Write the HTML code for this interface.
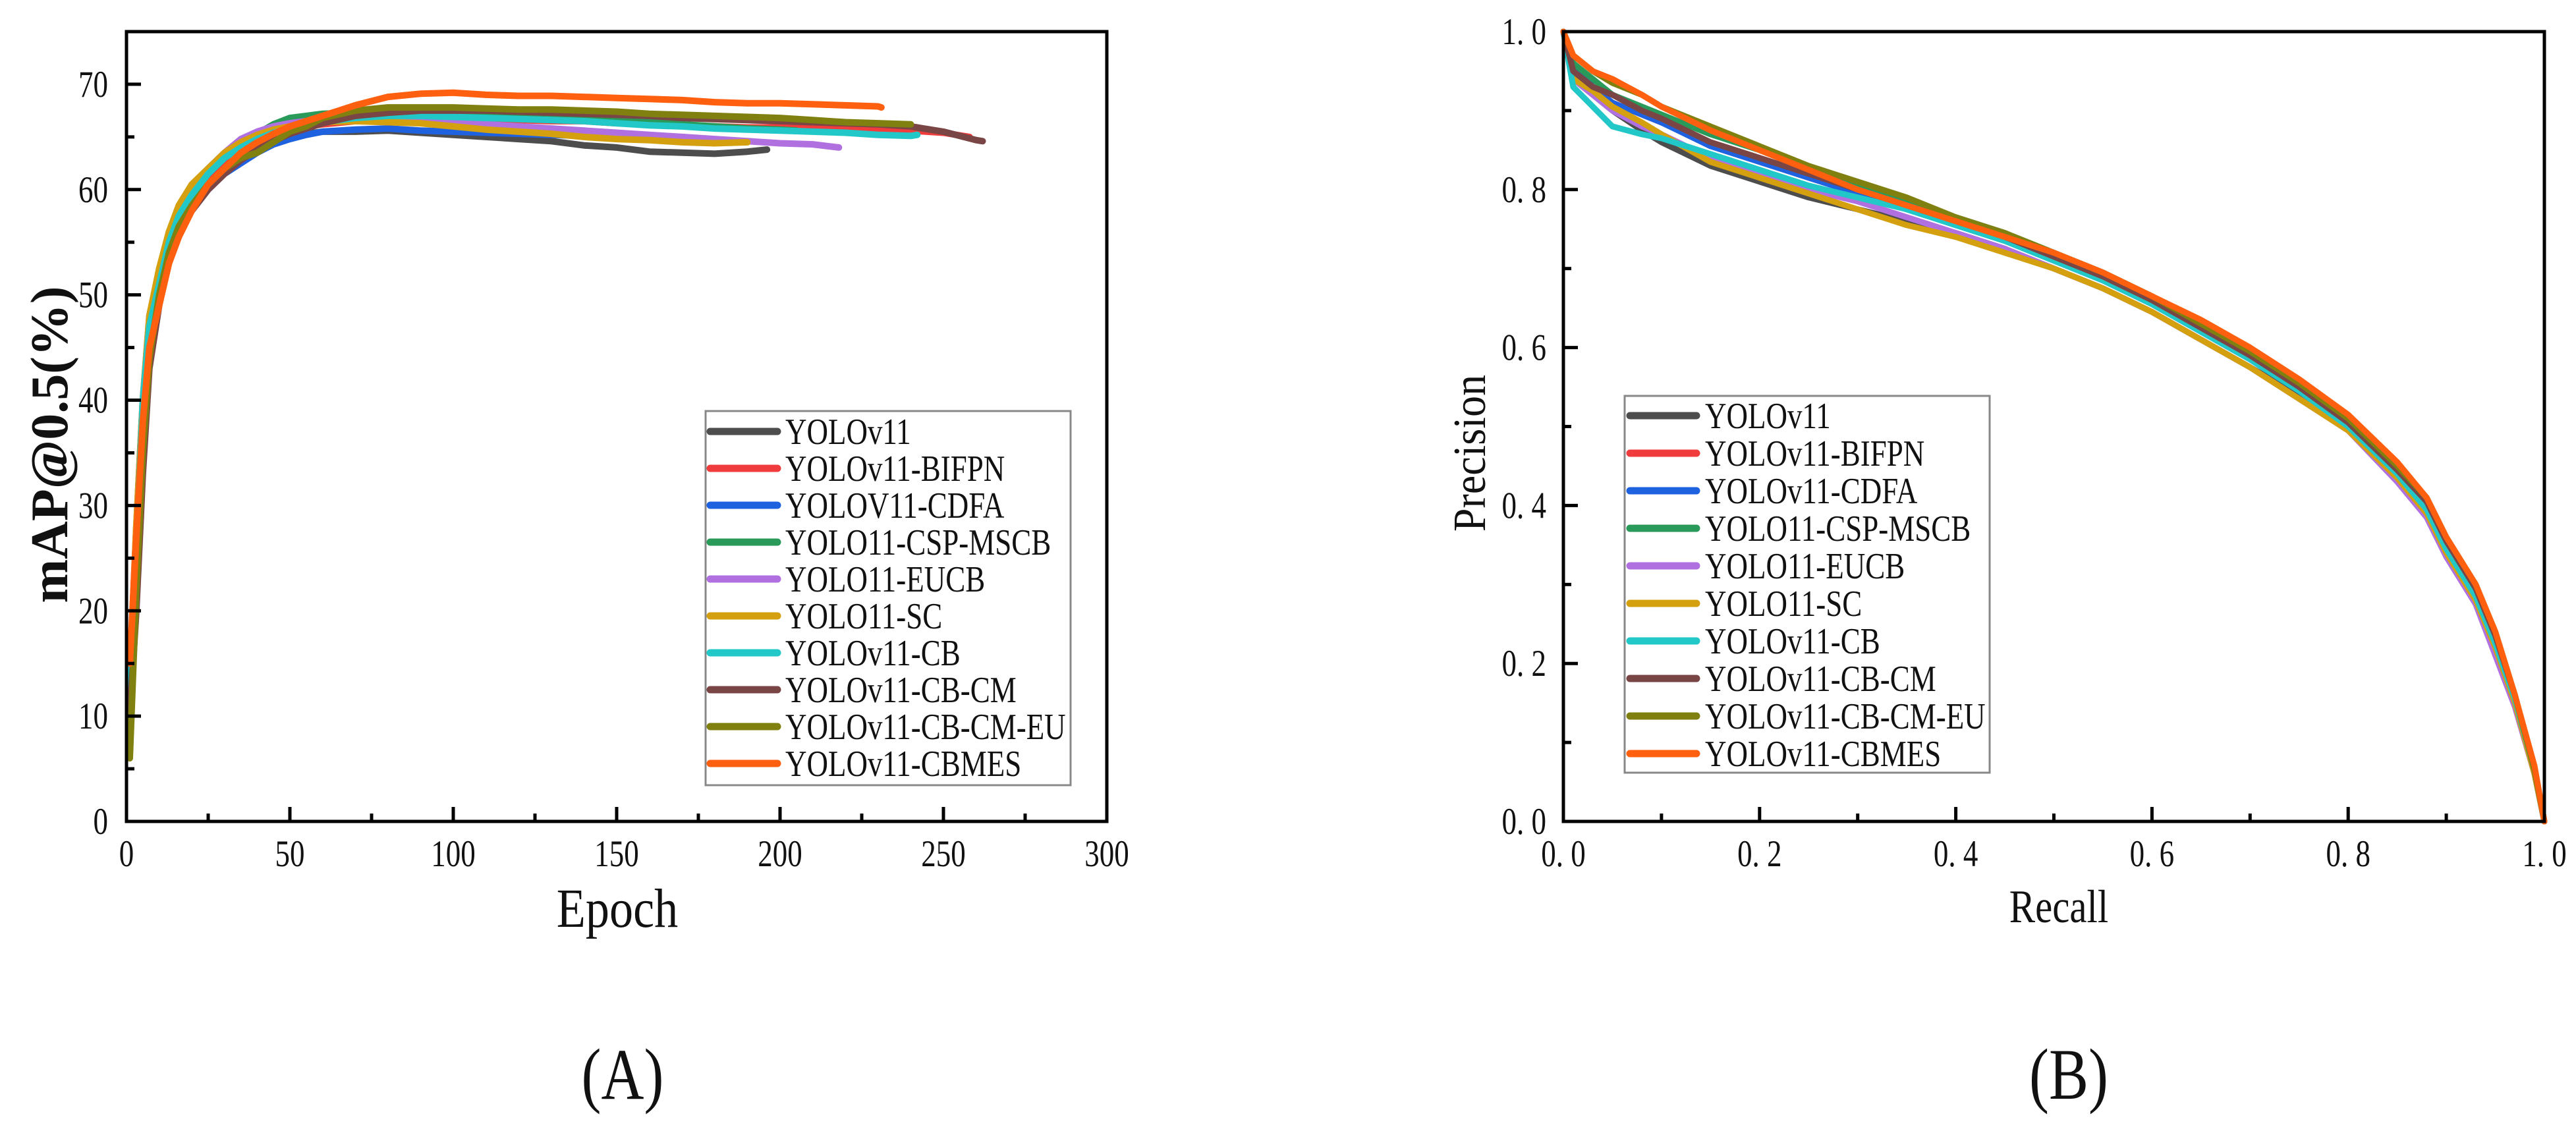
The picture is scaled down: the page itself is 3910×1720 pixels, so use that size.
<!DOCTYPE html>
<html><head><meta charset="utf-8"><style>
html,body{margin:0;padding:0;background:#fff;}
svg{display:block;}
text{font-family:"Liberation Serif",serif;fill:#111;}
</style></head><body>
<svg id="root" width="3910" height="1720" viewBox="0 0 3910 1720" xmlns="http://www.w3.org/2000/svg">
<rect width="3910" height="1720" fill="#fff"/>
<g id="chartA"></g>
<g id="chartB"></g>
<text x="0" y="0" font-size="100" text-anchor="middle" transform="translate(945,1668) scale(0.9,1.1)">(A)</text>
<text x="0" y="0" font-size="100" text-anchor="middle" transform="translate(3140,1668) scale(0.9,1.1)">(B)</text>
</svg>
<script>
const names = ["YOLOv11","YOLOv11-BIFPN","YOLOV11-CDFA","YOLO11-CSP-MSCB","YOLO11-EUCB","YOLO11-SC","YOLOv11-CB","YOLOv11-CB-CM","YOLOv11-CB-CM-EU","YOLOv11-CBMES"];
const namesB = ["YOLOv11","YOLOv11-BIFPN","YOLOv11-CDFA","YOLO11-CSP-MSCB","YOLO11-EUCB","YOLO11-SC","YOLOv11-CB","YOLOv11-CB-CM","YOLOv11-CB-CM-EU","YOLOv11-CBMES"];
const colors = ["#4d4d4d","#f03c3c","#1f62e0","#2a9a5a","#b070e0","#d4a010","#22c8c8","#7a4545","#808010","#ff6010"];
const epochs = [1,3,5,7,10,13,16,20,25,30,35,40,45,50,55,60,70,80,90,100,110,120,130,140,150,160,170,180,190,200,210,220,230,240,250,260];
const endEpochs = [196,258,152,205,218,190,242,262,240,231];
const mapA = [10,24,36,45,50,54,56.5,58.5,60.5,62,63,63.8,64.5,65,65.3, 65.5,65.5,65.6,65.4,65.2,65,64.8,64.6,64.2,64,63.6,63.5,63.4,63.6, 63.8];
const mapB = [14,28,40,47,51,54.5,57,59,61,62.5,63.5,64.5,65.2,65.7,66, 66.2,66.5,66.7,66.8,66.8,66.7,66.6,66.5,66.5,66.3,66.2,66.1,66,65.9,65.9,65.8,65.8,65.7,65.6,65.4, 65.0];
const mapC = [12,26,38,46,50,53.5,56,58,60,61.5,62.5,63.5,64.3,64.8,65.2, 65.5,65.7,65.8,65.6,65.5,65.4,65.3,65.2,65.1,65.0, 65.0];
const mapD = [8,25,38,46,51,55,57.5,59.5,61.5,63,64.3,65.3,66.2,66.8,67, 67.2,67.3,67.4,67.4,67.3,67.2,67,66.9,66.8,66.6,66.4,66.2,66,65.8,65.7, 65.6];
const mapE = [12,27,40,48,52,56,58,60,62,63.5,64.8,65.5,66,66.3,66.5, 66.5,66.6,66.5,66.4,66.3,66.2,66,65.8,65.6,65.4,65.2,65,64.8,64.6,64.4,64.3, 64.0];
const mapF = [13,28,40,48,52.5,56,58.5,60.5,62,63.5,64.5,65.2,65.7,66,66.2, 66.4,66.5,66.4,66.3,66,65.7,65.5,65.3,65,64.8,64.7,64.5,64.4, 64.5];
const mapG = [12,26,40,47,51,55,57.5,59.5,61.5,63,64,64.8,65.4,65.8,66.2, 66.4,66.8,67,67,66.9,66.8,66.7,66.6,66.5,66.3,66.1,66,65.8,65.7,65.6,65.5,65.4,65.2,65.1, 65.2];
const mapH = [10,20,33,43,49,53.5,56,58,60,61.5,62.8,63.8,64.6,65.3,65.8, 66.3,67,67.3,67.5,67.5,67.5,67.4,67.3,67.2,67.1,67,66.8,66.7,66.6,66.5,66.4,66.3,66.2,66,65.5,64.7, 64.6];
const mapI = [6,22,35,44,50,54,56.5,58.5,60.5,62,63,63.5,64.5,65.5,66, 66.8,67.5,67.8,67.8,67.8,67.7,67.6,67.6,67.5,67.4,67.2,67.1,67,66.9,66.8,66.6,66.4,66.3, 66.2];
const mapJ = [15,27,38,45,49,53,55.5,58,60.5,62,63.5,64.5,65.3,66,66.5, 67,68,68.8,69.1,69.2,69,68.9,68.9,68.8,68.7,68.6,68.5,68.3,68.2,68.2,68.1,68,67.9, 67.8];
const mapSeries = [mapA,mapB,mapC,mapD,mapE,mapF,mapG,mapH,mapI,mapJ];
const xTicksA = [0,50,100,150,200,250,300];
const yTicksA = [0,10,20,30,40,50,60,70];

const recall = [0,0.01,0.03,0.05,0.08,0.1,0.15,0.2,0.25,0.3,0.35,0.4,0.45,0.5,0.55,0.6,0.65,0.7,0.75,0.8,0.85,0.88,0.9,0.93,0.95,0.97,0.99,1.0];
const prA = [1.0,0.95,0.92,0.90,0.875,0.86,0.83,0.81,0.79,0.775,0.76,0.745,0.725,0.70,0.675,0.645,0.61,0.575,0.54,0.50,0.435,0.39,0.34,0.28,0.22,0.15,0.06,0.0];
const prB = [1.0,0.94,0.92,0.91,0.895,0.885,0.86,0.84,0.82,0.80,0.78,0.76,0.74,0.715,0.69,0.66,0.625,0.59,0.55,0.505,0.445,0.4,0.35,0.29,0.23,0.155,0.065,0];
const prC = [1.0,0.96,0.93,0.91,0.895,0.885,0.855,0.835,0.815,0.795,0.775,0.755,0.735,0.71,0.685,0.655,0.62,0.585,0.545,0.5,0.44,0.395,0.345,0.285,0.225,0.155,0.065,0];
const prD = [1.0,0.96,0.94,0.92,0.905,0.895,0.87,0.85,0.825,0.805,0.785,0.765,0.745,0.72,0.695,0.665,0.63,0.595,0.555,0.51,0.45,0.405,0.355,0.295,0.235,0.16,0.065,0];
const prE = [1.0,0.94,0.92,0.90,0.88,0.87,0.84,0.82,0.80,0.785,0.765,0.745,0.725,0.70,0.675,0.645,0.61,0.575,0.535,0.495,0.43,0.385,0.335,0.275,0.21,0.145,0.06,0];
const prF = [1.0,0.94,0.925,0.905,0.885,0.87,0.835,0.815,0.795,0.775,0.755,0.74,0.72,0.70,0.675,0.645,0.61,0.575,0.535,0.495,0.435,0.39,0.34,0.28,0.22,0.15,0.06,0];
const prG = [1.0,0.93,0.905,0.88,0.87,0.865,0.845,0.825,0.805,0.79,0.775,0.755,0.735,0.71,0.685,0.655,0.62,0.585,0.545,0.5,0.44,0.395,0.345,0.285,0.225,0.155,0.065,0];
const prH = [1.0,0.95,0.93,0.92,0.90,0.89,0.86,0.84,0.82,0.80,0.78,0.76,0.74,0.715,0.69,0.66,0.625,0.59,0.55,0.505,0.445,0.405,0.355,0.295,0.235,0.16,0.065,0];
const prI = [1.0,0.97,0.95,0.935,0.92,0.905,0.88,0.855,0.83,0.81,0.79,0.765,0.745,0.72,0.695,0.665,0.63,0.595,0.555,0.51,0.45,0.41,0.36,0.3,0.24,0.16,0.065,0];
const prJ = [1.0,0.97,0.95,0.94,0.92,0.905,0.875,0.85,0.825,0.80,0.78,0.76,0.74,0.72,0.695,0.665,0.635,0.60,0.56,0.515,0.455,0.41,0.36,0.3,0.24,0.16,0.07,0.0];
const prSeries = [prA,prB,prC,prD,prE,prF,prG,prH,prI,prJ];
const xTickLabelsB = ["0. 0","0. 2","0. 4","0. 6","0. 8","1. 0"];
const yTickLabelsB = ["0. 0","0. 2","0. 4","0. 6","0. 8","1. 0"];

const NS = "http://www.w3.org/2000/svg";
function mk(tag, attrs, parent){ const e=document.createElementNS(NS,tag); for(const k in attrs) e.setAttribute(k,attrs[k]); parent.appendChild(e); return e; }
function txt(parent, x, y, size, anchor, sx, sy, s){
  const t = mk("text",{x:0,y:0,"font-size":size,"text-anchor":anchor,transform:"translate("+x+","+y+") scale("+sx+","+sy+")"},parent);
  t.textContent = s;
  return t;
}

function drawFrame(g, L, R, T, B){
  const f = mk("rect",{x:L,y:T,width:R-L,height:B-T,fill:"none",stroke:"#000","stroke-width":5},g);
  
  
}

// Chart A
(function(){
  const g = document.getElementById("chartA");
  const L=192,R=1680,T=48,B=1247;
  const xs = e => L + (e/300)*(R-L);
  const ys = v => B - (v/75)*(B-T);
  const lines = mk("g",{},g);
  
  
  mapSeries.forEach((vals,si)=>{
    const pts = vals.map((v,i)=> i<vals.length-1 ? [epochs[i],v] : [endEpochs[si],v]);
    const d = pts.map((p,i)=>(i?"L":"M")+xs(p[0]).toFixed(1)+","+ys(p[1]).toFixed(1)).join("");
    const p = mk("path",{d:d,fill:"none",stroke:colors[si],"stroke-width":10,"stroke-linejoin":"round","stroke-linecap":"round"},lines);
    
    
  });
  drawFrame(g,L,R,T,B);
  for(let e=0;e<=300;e+=25){
    const major = e%50===0;
    const t = mk("line",{x1:xs(e),x2:xs(e),y1:B,y2:B-(major?22:12),stroke:"#000","stroke-width":5},g);
    
    
  }
  xTicksA.forEach(v=>{
    const t = txt(g, xs(v), 1315, 50, "middle", 0.9, 1.15, v);
    
    
  });
  for(let v=0;v<=75;v+=5){
    const major = v%10===0;
    const t = mk("line",{x1:L,x2:L+(major?22:12),y1:ys(v),y2:ys(v),stroke:"#000","stroke-width":5},g);
    
    
  }
  yTicksA.forEach(v=>{
    const t = txt(g, 164, ys(v)+19, 50, "end", 0.9, 1.15, v);
    
    
  });
  const xt = txt(g, 937, 1407, 76, "middle", 0.95, 1.1, "Epoch");
  
  
  const yt = mk("text",{x:0,y:0,"font-size":80,"font-weight":"bold","text-anchor":"middle",transform:"translate(102,675) rotate(-90)"},g);
  yt.textContent="mAP@0.5(%)";
  
  
  const lg = mk("g",{},g);
  
  
  mk("rect",{x:1071,y:624,width:554,height:568,fill:"#fff",stroke:"#888","stroke-width":3},lg);
  names.forEach((n,i)=>{
    const cy = 655 + i*56;
    const e = mk("g",{},lg);
    
    
    mk("line",{x1:1078,x2:1180,y1:cy,y2:cy,stroke:colors[i],"stroke-width":11,"stroke-linecap":"round"},e);
    txt(e, 1192, cy+19, 50, "start", 0.9, 1.12, n);
  });
})();

// Chart B
(function(){
  const g = document.getElementById("chartB");
  const L=2373,R=3862,T=48,B=1247;
  const xs = r => L + r*(R-L);
  const ys = p => B - p*(B-T);
  const lines = mk("g",{},g);
  
  
  prSeries.forEach((vals,si)=>{
    const d = vals.map((v,i)=>(i?"L":"M")+xs(recall[i]).toFixed(1)+","+ys(v).toFixed(1)).join("");
    const p = mk("path",{d:d,fill:"none",stroke:colors[si],"stroke-width":9,"stroke-linejoin":"round","stroke-linecap":"round"},lines);
    
    
  });
  drawFrame(g,L,R,T,B);
  for(let i=0;i<=10;i++){
    const major = i%2===0;
    const t = mk("line",{x1:xs(i/10),x2:xs(i/10),y1:B,y2:B-(major?22:12),stroke:"#000","stroke-width":5},g);
    
    
    const t2 = mk("line",{x1:L,x2:L+(major?22:12),y1:ys(i/10),y2:ys(i/10),stroke:"#000","stroke-width":5},g);
    
    
  }
  xTickLabelsB.forEach((s,i)=>{
    const t = txt(g, xs(i/5), 1315, 50, "middle", 0.9, 1.15, s);
    
    
  });
  yTickLabelsB.forEach((s,i)=>{
    const t = txt(g, 2347, ys(i/5)+19, 50, "end", 0.9, 1.15, s);
    
    
  });
  const xt = txt(g, 3125, 1400, 62, "middle", 0.95, 1.15, "Recall");
  
  
  const yt = mk("text",{x:0,y:0,"font-size":64,"text-anchor":"middle",transform:"translate(2254,688) rotate(-90) scale(1,1.1)"},g);
  yt.textContent="Precision";
  
  
  const lg = mk("g",{},g);
  
  
  mk("rect",{x:2466,y:601,width:554,height:572,fill:"#fff",stroke:"#888","stroke-width":3},lg);
  namesB.forEach((n,i)=>{
    const cy = 631 + i*57;
    const e = mk("g",{},lg);
    
    
    mk("line",{x1:2474,x2:2575,y1:cy,y2:cy,stroke:colors[i],"stroke-width":11,"stroke-linecap":"round"},e);
    txt(e, 2588, cy+19, 50, "start", 0.9, 1.12, n);
  });
})();
</script>
</body></html>
